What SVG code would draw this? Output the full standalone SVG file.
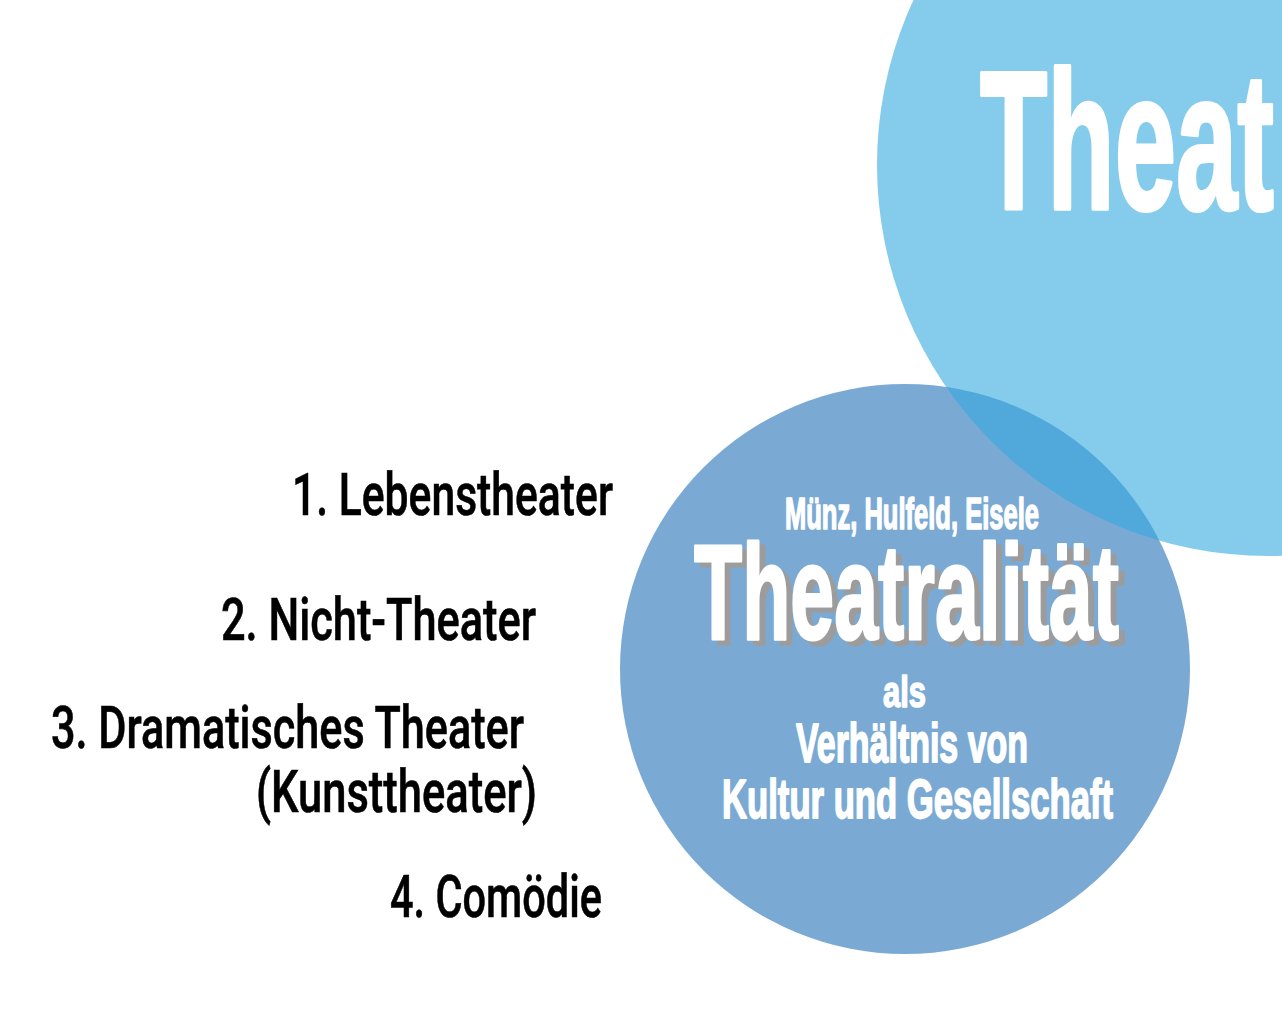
<svg xmlns="http://www.w3.org/2000/svg" width="1282" height="1034" viewBox="0 0 1282 1034">
<style>
.lbl{font-family:Roboto,"Liberation Sans",sans-serif;font-weight:500;font-size:59px;fill:#000;stroke:#000;stroke-width:0.6}
.w{font-family:"Liberation Sans",Arial,sans-serif;font-weight:bold;fill:#fff;stroke:#fff;stroke-linejoin:round}
.sh{font-family:"Liberation Sans",Arial,sans-serif;font-weight:bold;fill:#9c9c9c;stroke:#9c9c9c;stroke-linejoin:round}
</style>
<rect width="1282" height="1034" fill="#fff"/>
<g id="circle-theatralitaet">
<circle cx="905" cy="669" r="285" fill="#7aaad4"/>
</g>
<g id="circle-theater">
<circle cx="1268" cy="165" r="391" fill="#34a8de" fill-opacity="0.6"/>
<text class="w" x="980" y="209" font-size="196" stroke-width="4" textLength="294" lengthAdjust="spacingAndGlyphs">Theat</text>
</g>
<g id="theatralitaet-text">
<text class="w" x="785" y="529" font-size="44" stroke-width="1.6" textLength="254" lengthAdjust="spacingAndGlyphs">Münz, Hulfeld, Eisele</text>
<text class="sh" x="700" y="644" font-size="135" stroke-width="3" textLength="425" lengthAdjust="spacingAndGlyphs">Theatralität</text>
<text class="w" x="694" y="639" font-size="135" stroke-width="3" textLength="425" lengthAdjust="spacingAndGlyphs">Theatralität</text>
<text class="w" x="883" y="707" font-size="44" stroke-width="1.6" textLength="43" lengthAdjust="spacingAndGlyphs">als</text>
<text class="w" x="796" y="762" font-size="55" stroke-width="1.8" textLength="232" lengthAdjust="spacingAndGlyphs">Verhältnis von</text>
<text class="w" x="722" y="818" font-size="56" stroke-width="1.8" textLength="391" lengthAdjust="spacingAndGlyphs">Kultur und Gesellschaft</text>
</g>
<g id="labels">
<text class="lbl" x="292" y="515" textLength="321" lengthAdjust="spacingAndGlyphs">1. Lebenstheater</text>
<text class="lbl" x="221" y="640" textLength="315" lengthAdjust="spacingAndGlyphs">2. Nicht-Theater</text>
<text class="lbl" x="51" y="748" textLength="473" lengthAdjust="spacingAndGlyphs">3. Dramatisches Theater</text>
<text class="lbl" x="256" y="812" textLength="281" lengthAdjust="spacingAndGlyphs">(Kunsttheater)</text>
<text class="lbl" x="390" y="917" textLength="212" lengthAdjust="spacingAndGlyphs">4. Comödie</text>
</g>
<g id="connectors"/>
</svg>
